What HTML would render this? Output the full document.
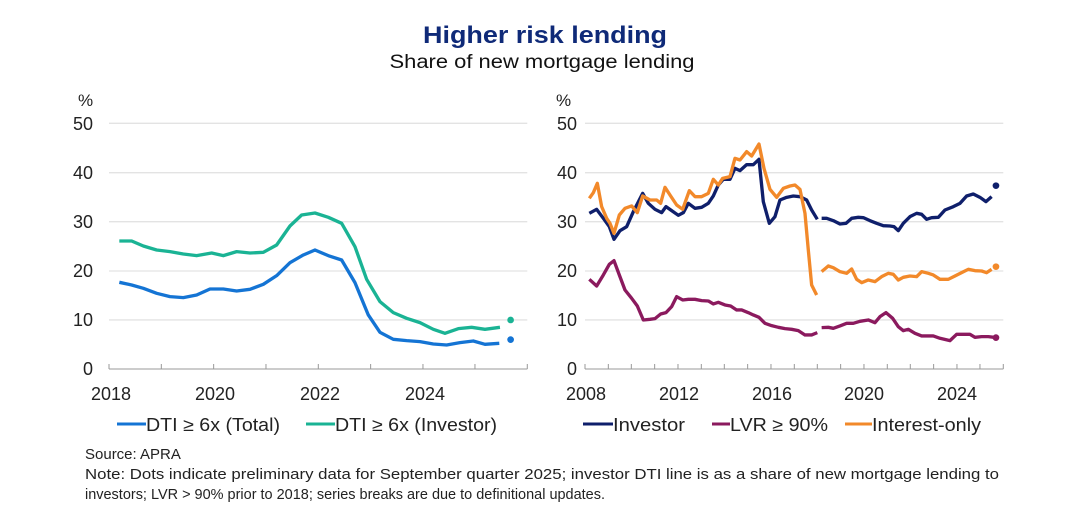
<!DOCTYPE html>
<html><head><meta charset="utf-8"><style>
html,body{margin:0;padding:0;background:#fff;}
svg{display:block;font-family:"Liberation Sans",Arial,sans-serif;}
</style></head><body>
<svg width="1084" height="528" viewBox="0 0 1084 528">
<text x="545" y="43" text-anchor="middle" font-size="24" font-weight="bold" fill="#0f2a78" textLength="244" lengthAdjust="spacingAndGlyphs">Higher risk lending</text>
<text x="542" y="68" text-anchor="middle" font-size="19" fill="#111" textLength="305" lengthAdjust="spacingAndGlyphs">Share of new mortgage lending</text>

<g font-size="18" fill="#222">
<text x="78" y="106" font-size="17">%</text>
<text x="93" y="130" text-anchor="end">50</text>
<text x="93" y="179" text-anchor="end">40</text>
<text x="93" y="228" text-anchor="end">30</text>
<text x="93" y="277" text-anchor="end">20</text>
<text x="93" y="326" text-anchor="end">10</text>
<text x="93" y="375" text-anchor="end">0</text>
<text x="111" y="400" text-anchor="middle">2018</text>
<text x="215" y="400" text-anchor="middle">2020</text>
<text x="320" y="400" text-anchor="middle">2022</text>
<text x="425" y="400" text-anchor="middle">2024</text>
<text x="556" y="106" font-size="17">%</text>
<text x="577" y="130" text-anchor="end">50</text>
<text x="577" y="179" text-anchor="end">40</text>
<text x="577" y="228" text-anchor="end">30</text>
<text x="577" y="277" text-anchor="end">20</text>
<text x="577" y="326" text-anchor="end">10</text>
<text x="577" y="375" text-anchor="end">0</text>
<text x="586" y="400" text-anchor="middle">2008</text>
<text x="679" y="400" text-anchor="middle">2012</text>
<text x="772" y="400" text-anchor="middle">2016</text>
<text x="864" y="400" text-anchor="middle">2020</text>
<text x="957" y="400" text-anchor="middle">2024</text>
</g>

<g transform="translate(60,90) scale(0.3333)" fill="none" stroke-linejoin="round">
<g stroke="#e3e3e3" stroke-width="4">
<line x1="147" x2="1402" y1="100" y2="100"/><line x1="147" x2="1402" y1="248" y2="248"/><line x1="147" x2="1402" y1="395" y2="395"/><line x1="147" x2="1402" y1="543" y2="543"/><line x1="147" x2="1402" y1="690" y2="690"/>
</g>
<g stroke="#999" stroke-width="3">
<line x1="147" x2="1402" y1="837" y2="837"/>
<path d="M147 822V837M304 822V837M461 822V837M618 822V837M775 822V837M932 822V837M1089 822V837M1245 822V837M1402 822V837"/>
</g>
<polyline stroke="#1ab394" stroke-width="10" points="178,453 215,453 250,468 290,480 330,485 370,492 410,497 455,489 490,497 530,485 570,489 610,487 650,465 690,408 725,375 765,369 805,382 845,400 885,470 920,568 960,635 1000,668 1040,685 1080,698 1120,718 1155,730 1195,716 1235,712 1275,718 1320,712"/>
<polyline stroke="#1474d4" stroke-width="10" points="178,577 215,585 250,595 290,610 330,620 370,623 410,615 450,597 490,597 530,603 570,598 610,583 650,557 690,518 730,495 765,480 805,497 845,510 885,578 925,675 960,727 1000,748 1040,752 1080,755 1120,762 1160,765 1200,758 1240,753 1275,763 1318,760"/>
<circle cx="1352" cy="690" r="10" fill="#1ab394"/>
<circle cx="1352" cy="749" r="10" fill="#1474d4"/>
</g>

<g transform="translate(540,90) scale(0.3333)" fill="none" stroke-linejoin="round">
<g stroke="#e3e3e3" stroke-width="4">
<line x1="135" x2="1390" y1="100" y2="100"/><line x1="135" x2="1390" y1="248" y2="248"/><line x1="135" x2="1390" y1="395" y2="395"/><line x1="135" x2="1390" y1="543" y2="543"/><line x1="135" x2="1390" y1="690" y2="690"/>
</g>
<g stroke="#999" stroke-width="3">
<line x1="135" x2="1390" y1="837" y2="837"/>
<path d="M135 822V837M205 822V837M274 822V837M344 822V837M414 822V837M484 822V837M553 822V837M623 822V837M693 822V837M763 822V837M832 822V837M902 822V837M972 822V837M1042 822V837M1111 822V837M1181 822V837M1251 822V837M1320 822V837M1390 822V837"/>
</g>
<polyline stroke="#0f1f6b" stroke-width="10" points="148,370 170,358 190,385 208,410 222,448 240,422 260,410 280,365 308,310 325,340 345,358 365,368 378,350 395,362 415,376 430,368 445,340 465,355 485,352 505,340 520,318 535,285 550,268 570,268 585,235 600,242 620,224 640,224 657,208 670,335 688,400 705,380 720,330 740,322 760,318 780,320 800,330 815,360 832,388"/>
<polyline stroke="#0f1f6b" stroke-width="10" points="845,385 860,385 880,392 900,402 918,400 935,385 955,382 970,383 990,392 1010,400 1030,407 1050,408 1062,410 1075,422 1090,400 1110,380 1130,370 1145,373 1160,388 1175,383 1195,382 1215,360 1240,350 1260,340 1280,318 1300,312 1320,322 1338,335 1355,320"/>
<polyline stroke="#f2892a" stroke-width="10" points="148,325 160,308 172,280 185,350 200,385 210,400 222,430 238,375 255,355 275,348 292,368 308,318 330,330 350,330 362,340 375,292 392,318 410,345 428,358 448,302 465,320 485,320 505,310 520,268 535,285 548,265 570,260 585,205 600,210 620,185 635,198 657,162 672,235 690,298 710,322 730,295 750,288 765,285 780,298 795,370 805,480 815,585 830,615"/>
<polyline stroke="#f2892a" stroke-width="10" points="845,545 865,528 880,533 900,545 920,550 935,537 950,568 965,578 985,570 1005,575 1025,560 1045,550 1060,553 1075,570 1090,562 1110,558 1130,560 1145,545 1165,550 1180,555 1200,568 1225,568 1245,558 1265,548 1285,538 1305,542 1325,543 1340,548 1355,538"/>
<polyline stroke="#8b1a5e" stroke-width="10" points="148,568 170,588 190,555 208,523 222,512 238,555 255,600 275,625 292,648 310,690 330,688 345,686 362,672 378,668 395,650 410,620 428,630 445,628 465,628 485,632 505,633 520,642 535,637 555,645 572,648 590,660 605,660 625,668 640,675 657,682 675,700 695,707 715,712 735,716 755,718 775,722 795,735 815,735 832,728"/>
<polyline stroke="#8b1a5e" stroke-width="10" points="845,713 865,712 880,715 900,708 920,700 940,700 960,694 985,690 1005,698 1020,680 1038,668 1058,685 1075,710 1090,722 1105,718 1125,730 1145,738 1165,738 1180,738 1200,745 1230,752 1250,733 1270,733 1290,733 1305,742 1325,740 1345,740 1362,742"/>
<circle cx="1368" cy="287" r="10" fill="#0f1f6b"/>
<circle cx="1368" cy="530" r="10" fill="#f2892a"/>
<circle cx="1368" cy="743" r="10" fill="#8b1a5e"/>
</g>

<g stroke-width="3">
<line x1="117" x2="146" y1="424" y2="424" stroke="#1474d4"/>
<line x1="306" x2="335" y1="424" y2="424" stroke="#1ab394"/>
<line x1="583" x2="613" y1="424" y2="424" stroke="#0f1f6b"/>
<line x1="712" x2="730" y1="424" y2="424" stroke="#8b1a5e"/>
<line x1="845" x2="872" y1="424" y2="424" stroke="#f2892a"/>
</g>
<g font-size="18" fill="#222">
<text x="146" y="431" textLength="134" lengthAdjust="spacingAndGlyphs">DTI ≥ 6x (Total)</text>
<text x="335" y="431" textLength="162" lengthAdjust="spacingAndGlyphs">DTI ≥ 6x (Investor)</text>
<text x="613" y="431" textLength="72" lengthAdjust="spacingAndGlyphs">Investor</text>
<text x="730" y="431" textLength="98" lengthAdjust="spacingAndGlyphs">LVR ≥ 90%</text>
<text x="872" y="431" textLength="109" lengthAdjust="spacingAndGlyphs">Interest-only</text>
</g>
<g font-size="15" fill="#222">
<text x="85" y="459">Source: APRA</text>
<text x="85" y="479" textLength="914" lengthAdjust="spacingAndGlyphs">Note: Dots indicate preliminary data for September quarter 2025; investor DTI line is as a share of new mortgage lending to</text>
<text x="85" y="499" textLength="520" lengthAdjust="spacingAndGlyphs">investors; LVR &gt; 90% prior to 2018; series breaks are due to definitional updates.</text>
</g>
</svg>
</body></html>
